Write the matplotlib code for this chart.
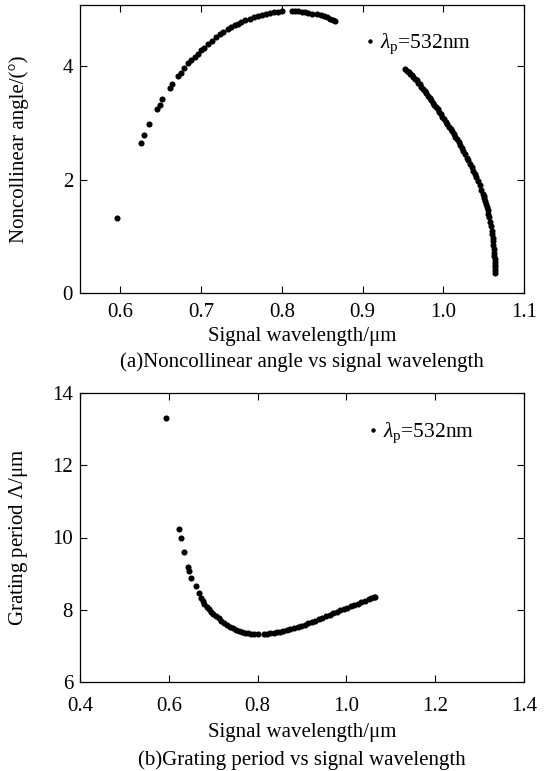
import matplotlib
matplotlib.use("Agg")
import matplotlib.pyplot as plt
from matplotlib.lines import Line2D

plt.rcParams['font.family'] = ['Liberation Serif', 'DejaVu Serif']
plt.rcParams['mathtext.fontset'] = 'custom'
plt.rcParams['mathtext.rm'] = 'Liberation Serif'
plt.rcParams['mathtext.it'] = 'Liberation Serif:italic'
plt.rcParams['font.size'] = 15

# ---- (a) noncollinear angle vs signal wavelength ----
angle_wl = [0.596, 0.625, 0.629, 0.636, 0.646, 0.649, 0.652, 0.661, 0.664, 0.672,
            0.675, 0.679, 0.684, 0.688, 0.692, 0.696, 0.700, 0.704, 0.708, 0.713,
            0.718, 0.723, 0.727, 0.733, 0.737, 0.742, 0.746, 0.750, 0.755, 0.760,
            0.766, 0.770, 0.775, 0.780, 0.785, 0.790, 0.795, 0.800,
            0.812, 0.816, 0.820, 0.825, 0.829, 0.833, 0.838, 0.843, 0.848, 0.852,
            0.856, 0.860, 0.864, 0.866,
            0.953, 0.955, 0.957, 0.959, 0.961, 0.963, 0.965, 0.967, 0.969, 0.971,
            0.973, 0.975, 0.977, 0.979, 0.981, 0.983, 0.985, 0.987, 0.989, 0.991,
            0.993, 0.995, 0.997, 0.999, 1.001, 1.003, 1.005, 1.007, 1.009, 1.011,
            1.013, 1.015, 1.017, 1.019, 1.021, 1.023, 1.025, 1.027, 1.029, 1.031,
            1.033, 1.035, 1.037, 1.039, 1.041, 1.043, 1.045, 1.047, 1.049, 1.050,
            1.051, 1.052, 1.053, 1.054, 1.055, 1.056, 1.057, 1.058, 1.059, 1.060,
            1.0605, 1.061, 1.0615, 1.062, 1.0625, 1.063, 1.063, 1.0635, 1.0635, 1.064,
            1.064, 1.064, 1.064]
angle_deg = [1.32, 2.65, 2.78, 2.98, 3.25, 3.31, 3.43, 3.62, 3.68, 3.83,
             3.88, 3.97, 4.06, 4.11, 4.17, 4.22, 4.28, 4.33, 4.39, 4.45,
             4.51, 4.57, 4.60, 4.65, 4.69, 4.72, 4.75, 4.78, 4.81, 4.84,
             4.87, 4.89, 4.91, 4.93, 4.94, 4.95, 4.96, 4.97,
             4.97, 4.97, 4.97, 4.96, 4.95, 4.94, 4.93, 4.92, 4.90, 4.88,
             4.86, 4.84, 4.82, 4.80,
             3.95, 3.92, 3.90, 3.87, 3.84, 3.81, 3.78, 3.75, 3.71, 3.68,
             3.64, 3.60, 3.56, 3.52, 3.48, 3.44, 3.40, 3.36, 3.32, 3.28,
             3.24, 3.19, 3.15, 3.11, 3.07, 3.02, 2.98, 2.93, 2.89, 2.85,
             2.80, 2.75, 2.71, 2.66, 2.61, 2.55, 2.50, 2.45, 2.39, 2.34,
             2.28, 2.22, 2.16, 2.10, 2.04, 1.97, 1.90, 1.82, 1.75, 1.71,
             1.67, 1.62, 1.57, 1.52, 1.46, 1.40, 1.34, 1.26, 1.18, 1.10,
             1.04, 0.97, 0.91, 0.84, 0.78, 0.71, 0.65, 0.60, 0.55, 0.50,
             0.45, 0.40, 0.35]

# ---- (b) grating period vs signal wavelength ----
period_wl = [0.594, 0.623, 0.627, 0.635, 0.644, 0.645, 0.650, 0.661,
             0.668, 0.672, 0.676, 0.680, 0.685, 0.690, 0.695, 0.700, 0.706, 0.712,
             0.718, 0.724, 0.730, 0.737, 0.744, 0.751, 0.758, 0.765, 0.772, 0.779,
             0.786, 0.793, 0.800,
             0.815, 0.822, 0.829, 0.836, 0.843, 0.850, 0.858, 0.866, 0.874, 0.882,
             0.890, 0.898, 0.906, 0.914, 0.922, 0.930, 0.938, 0.946, 0.954, 0.962,
             0.970, 0.978, 0.986, 0.994, 1.002, 1.010, 1.018, 1.026, 1.034, 1.042,
             1.050, 1.056, 1.062, 1.065]
period_um = [13.32, 10.23, 9.98, 9.60, 9.17, 9.08, 8.89, 8.66,
             8.45, 8.33, 8.25, 8.17, 8.08, 8.01, 7.95, 7.89, 7.82, 7.76,
             7.70, 7.64, 7.58, 7.53, 7.49, 7.45, 7.42, 7.39, 7.37, 7.35,
             7.34, 7.33, 7.33,
             7.33, 7.34, 7.35, 7.36, 7.38, 7.39, 7.42, 7.44, 7.47, 7.50,
             7.52, 7.55, 7.59, 7.62, 7.66, 7.70, 7.74, 7.78, 7.82, 7.86,
             7.90, 7.94, 7.98, 8.01, 8.05, 8.09, 8.13, 8.17, 8.21, 8.25,
             8.29, 8.32, 8.35, 8.36]

xticks_a = [0.6, 0.7, 0.8, 0.9, 1.0, 1.1]
xticklabels_a = ['0.6', '0.7', '0.8', '0.9', '1.0', '1.1']
yticks_a = [0, 2, 4]
xticks_b = [0.4, 0.6, 0.8, 1.0, 1.2, 1.4]
xticklabels_b = ['0.4', '0.6', '0.8', '1.0', '1.2', '1.4']
yticks_b = [6, 8, 10, 12, 14]

legend_label = r'$\mathit{\lambda}_{\mathrm{p}}$=532nm'

W, H = 544, 771
fig = plt.figure(figsize=(W / 100, H / 100), dpi=100)

def frac_rect(left, top, right, bottom):
    return [left / W, 1 - bottom / H, (right - left) / W, (bottom - top) / H]

ax1 = fig.add_axes(frac_rect(80, 5, 524, 293))
ax2 = fig.add_axes(frac_rect(80, 393, 524, 682))

ms = 4.4
ax1.plot(angle_wl, angle_deg, 'o', color='black', markersize=ms, markeredgewidth=0)
ax2.plot(period_wl, period_um, 'o', color='black', markersize=ms, markeredgewidth=0)

ax1.set_xlim(0.55, 1.1)
ax1.set_ylim(0, 5.08)
ax1.set_xticks(xticks_a)
ax1.set_xticklabels(xticklabels_a)
ax1.set_yticks(yticks_a)
ax1.set_ylabel('Noncollinear angle/(°)', labelpad=24)

ax2.set_xlim(0.4, 1.4)
ax2.set_ylim(6, 14)
ax2.set_xticks(xticks_b)
ax2.set_xticklabels(xticklabels_b)
ax2.set_yticks(yticks_b)
ax2.set_ylabel(r'Grating period $\mathit{\Lambda}$/μm', labelpad=16)

for ax, xpad in ((ax1, 7), (ax2, 11)):
    ax.tick_params(direction='in', length=5, width=0.8, top=True, right=True,
                   labelsize=15)
    ax.tick_params(axis='x', pad=xpad)
    ax.tick_params(axis='y', pad=5)
    for s in ax.spines.values():
        s.set_linewidth(0.9)

h1 = Line2D([], [], marker='o', color='black', linestyle='none',
            markersize=3.2, markeredgewidth=0)
ax1.legend([h1], [legend_label], loc='center left', frameon=False,
           bbox_to_anchor=(0.615, 0.865), handlelength=0.6,
           handletextpad=0.15, borderpad=0, fontsize=15.5)
h2 = Line2D([], [], marker='o', color='black', linestyle='none',
            markersize=3.2, markeredgewidth=0)
ax2.legend([h2], [legend_label], loc='center left', frameon=False,
           bbox_to_anchor=(0.622, 0.862), handlelength=0.6,
           handletextpad=0.15, borderpad=0, fontsize=15.5)

cx = 0.5 * (80 + 524) / W
fig.text(cx, 1 - 337 / H, 'Signal wavelength/μm', ha='center', va='center',
         fontsize=15)
fig.text(cx, 1 - 362 / H,
         '(a)Noncollinear angle vs signal wavelength', ha='center', va='center',
         fontsize=15)
fig.text(cx, 1 - 733 / H, 'Signal wavelength/μm', ha='center', va='center',
         fontsize=15)
fig.text(cx, 1 - 760 / H,
         '(b)Grating period vs signal wavelength', ha='center', va='center',
         fontsize=15)

fig.savefig('out.png', dpi=100)
